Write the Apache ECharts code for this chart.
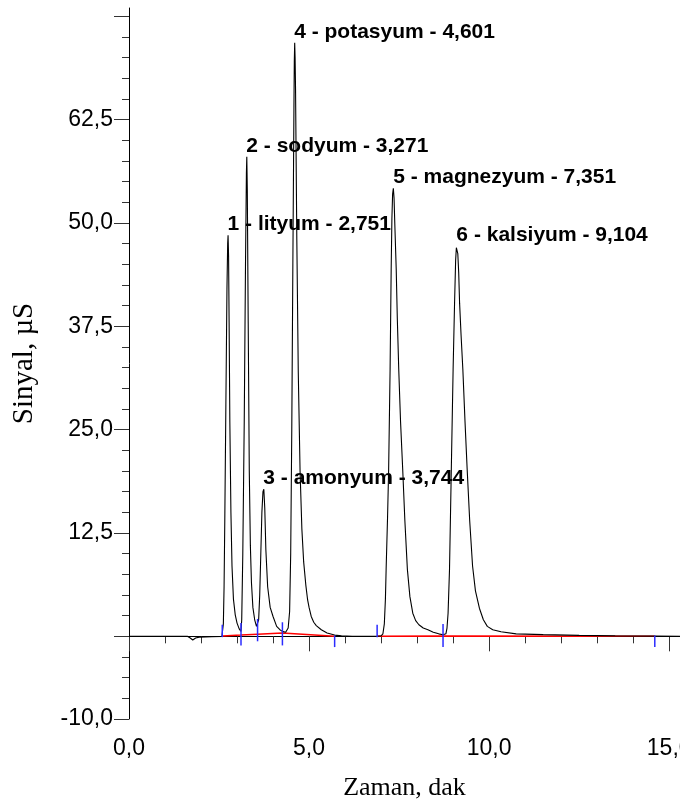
<!DOCTYPE html>
<html>
<head>
<meta charset="utf-8">
<script src="https://cdn.jsdelivr.net/npm/echarts@6/dist/echarts.min.js"></script>
<style>
html, body { margin: 0; padding: 0; background: #fff; }
#chart { width: 680px; height: 808px; }
</style>
</head>
<body>
<div id="chart"></div>
<script>
// signal, [time (dak), signal (µS)]
var lead = [[0, 0], [1.62, 0], [1.70, -0.2], [1.77, -0.45], [1.85, -0.2], [1.95, -0.1], [2.30, -0.05], [2.58, 0]];
var peak1 = [[2.60, 0.1], [2.62, 1.5], [2.64, 6], [2.66, 14], [2.69, 28], [2.72, 42], [2.74, 47.5], [2.751, 48.5], [2.765, 46], [2.78, 38], [2.80, 26], [2.83, 15], [2.86, 8.5], [2.90, 4.5], [2.95, 2.6], [3.00, 1.6], [3.06, 0.9]];
var peak2 = [[3.11, 0.6], [3.13, 2], [3.16, 10], [3.20, 26], [3.235, 45], [3.26, 56], [3.271, 58], [3.285, 54], [3.31, 38], [3.34, 20], [3.37, 11], [3.40, 6.5], [3.44, 3.5], [3.49, 2.0], [3.54, 1.2]];
var peak3 = [[3.57, 1.0], [3.60, 2.0], [3.63, 5], [3.66, 10], [3.69, 15], [3.72, 17.5], [3.744, 17.8], [3.77, 15.5], [3.80, 10.5], [3.85, 6], [3.92, 3.5], [4.00, 2.4], [4.10, 1.2], [4.19, 0.8]];
var peak4 = [[4.26, 0.6], [4.35, 0.5], [4.42, 1.0], [4.46, 3], [4.49, 10], [4.52, 25], [4.55, 45], [4.58, 64], [4.59, 69.5], [4.601, 71.8], [4.612, 70], [4.625, 66], [4.66, 48], [4.70, 32], [4.75, 20], [4.80, 13], [4.85, 9], [4.91, 6.2], [4.96, 4.4], [5.00, 3.5], [5.06, 2.4], [5.13, 1.7], [5.20, 1.3], [5.34, 0.8], [5.50, 0.4], [5.71, 0.15], [5.90, 0.05], [6.20, 0]];
var peak5 = [[6.89, 0], [7.00, 0.05], [7.05, 0.3], [7.09, 1.5], [7.12, 4.5], [7.14, 8.1], [7.18, 14.5], [7.21, 20.2], [7.25, 32.3], [7.28, 44.4], [7.30, 50.5], [7.32, 53.5], [7.34, 54.2], [7.36, 53], [7.38, 50], [7.42, 44.4], [7.45, 38.5], [7.49, 32.3], [7.54, 26], [7.60, 20.2], [7.66, 14], [7.73, 8.1], [7.80, 4.8], [7.88, 2.8], [7.96, 1.9], [8.05, 1.4], [8.17, 1.0], [8.30, 0.8], [8.45, 0.5], [8.60, 0.3]];
var peak6 = [[8.72, 0.2], [8.80, 0.3], [8.83, 1.0], [8.86, 2.8], [8.90, 8.1], [8.95, 20.2], [9.00, 32.3], [9.04, 40.3], [9.07, 45.5], [9.09, 47], [9.11, 47.2], [9.13, 46.3], [9.155, 44], [9.18, 40.3], [9.22, 36.5], [9.27, 32.3], [9.33, 26], [9.39, 20.2], [9.46, 14], [9.54, 8.5], [9.62, 5.5], [9.73, 3.4], [9.84, 2.0], [9.95, 1.2], [10.10, 0.8], [10.33, 0.55], [10.75, 0.3], [11.50, 0.2], [12.50, 0.12], [13.50, 0.06], [14.60, 0.02], [15.30, 0]];

// integration baseline (red) and peak markers (blue)
var base1 = [[2.60, 0.05], [3.11, 0.15], [3.57, 0.25], [4.26, 0.4], [5.71, 0]];
var base2 = [[6.89, 0], [8.72, 0.05], [14.60, 0]];
var markTimes = [2.59, 3.11, 3.57, 4.26, 5.71, 6.89, 8.72, 14.60];
var markTop = [1.4, 1.6, 2.1, 1.7, 0.1, 1.4, 1.5, 0.1];
var markBottom = [-0.1, -1.1, -0.6, -1.1, -1.3, -0.1, -1.3, -1.3];

// peak labels
var peakTimes = [2.751, 3.271, 3.744, 4.601, 7.351, 9.104];
var peakHeights = [48.5, 58, 17.8, 71.8, 54.2, 47.2];
var peakNames = ['1 - lityum - 2,751', '2 - sodyum - 3,271', '3 - amonyum - 3,744', '4 - potasyum - 4,601', '5 - magnezyum - 7,351', '6 - kalsiyum - 9,104'];

// axis ticks
var yMajorTicks = [-10, 0, 12.5, 25, 37.5, 50, 62.5, 75];
var yLabelTicks = [-10, 12.5, 25, 37.5, 50, 62.5];
var yMinorTicks = [-7.5, -5, -2.5, 2.5, 5, 7.5, 10, 15, 17.5, 20, 22.5, 27.5, 30, 32.5, 35, 40, 42.5, 45, 47.5, 52.5, 55, 57.5, 60, 65, 67.5, 70, 72.5];
var xMajorTicks = [0, 5, 10, 15];
var xMinorTicks = [1, 2, 3, 4, 6, 7, 8, 9, 11, 12, 13, 14];

(function(){
	var myChart = echarts.init(document.getElementById('chart'));
	var signal = lead.concat(peak1, peak2, peak3, peak4, peak5, peak6);
	var marks = markTimes.map(function (t, i) { return [t, markTop[i], markBottom[i]]; });
	var labels = peakTimes.map(function (t, i) { return { value: [t, peakHeights[i]], name: peakNames[i] }; });
	var fmt = function (v) { return v.toFixed(1).replace('.', ','); };
	var tickFont = 'Liberation Sans, Arial, sans-serif';
	var nameFont = 'Liberation Serif, Times New Roman, serif';

	var option = {
		animation: false,
		grid: { left: 129, right: 0, top: 8, bottom: 89, outerBoundsMode: 'none', containLabel: false },
		xAxis: [
			{
				type: 'value', min: 0, max: 15.3,
				splitLine: { show: false },
				axisLine: { lineStyle: { color: '#000', width: 1 } },
				axisTick: { customValues: xMajorTicks, length: 15, lineStyle: { color: '#333' } },
				axisLabel: { customValues: xMajorTicks, formatter: fmt, margin: 18, color: '#000', fontSize: 23, fontFamily: tickFont, hideOverlap: false },
				name: 'Zaman, dak', nameLocation: 'middle', nameGap: 56,
				nameTextStyle: { color: '#000', fontSize: 26, fontFamily: nameFont }
			},
			{
				type: 'value', min: 0, max: 15.3, position: 'bottom',
				splitLine: { show: false },
				axisLine: { show: false },
				axisTick: { customValues: xMinorTicks, length: 7, lineStyle: { color: '#333' } },
				axisLabel: { show: false }
			}
		],
		yAxis: [
			{
				type: 'value', min: -10, max: 76,
				splitLine: { show: false },
				axisLine: { show: true, lineStyle: { color: '#000', width: 1 } },
				axisTick: { customValues: yMajorTicks, length: 15, lineStyle: { color: '#333' } },
				axisLabel: { customValues: yLabelTicks, formatter: fmt, margin: 16, color: '#000', fontSize: 23, fontFamily: tickFont },
				name: 'Sinyal, µS', nameLocation: 'middle', nameGap: 90,
				nameTextStyle: { color: '#000', fontSize: 29, fontFamily: nameFont }
			},
			{
				type: 'value', min: -10, max: 76, position: 'left',
				splitLine: { show: false },
				axisLine: { show: false },
				axisTick: { customValues: yMinorTicks, length: 7, lineStyle: { color: '#333' } },
				axisLabel: { show: false }
			}
		],
		series: [
			{
				name: 'baseline1', type: 'line', data: base1,
				showSymbol: false, silent: true,
				lineStyle: { color: '#ff0000', width: 1.5 }
			},
			{
				name: 'baseline2', type: 'line', data: base2,
				showSymbol: false, silent: true,
				lineStyle: { color: '#ff0000', width: 1.5 }
			},
			{
				name: 'signal', type: 'line', data: signal,
				showSymbol: false, silent: true,
				lineStyle: { color: '#000', width: 1.1 },
				z: 3
			},
			{
				name: 'marks', type: 'custom', data: marks, z: 4, silent: true,
				renderItem: function (params, api) {
					var p1 = api.coord([api.value(0), api.value(1)]);
					var p2 = api.coord([api.value(0), api.value(2)]);
					return {
						type: 'line',
						shape: { x1: p1[0], y1: p1[1], x2: p2[0], y2: p2[1] },
						style: { stroke: '#2b2bff', lineWidth: 1.5 }
					};
				}
			},
			{
				name: 'labels', type: 'scatter', data: labels, z: 5, silent: true,
				symbolSize: 1, itemStyle: { color: 'transparent' },
				label: {
					show: true, position: [0, 0], align: 'left', verticalAlign: 'bottom',
					formatter: '{b}', color: '#000', opacity: 1, fontSize: 21, fontWeight: 'bold',
					fontFamily: tickFont
				}
			}
		]
	};
	myChart.setOption(option);
	window.addEventListener("resize", function() {
		myChart.resize();
	});
})();
</script>
</body>
</html>
